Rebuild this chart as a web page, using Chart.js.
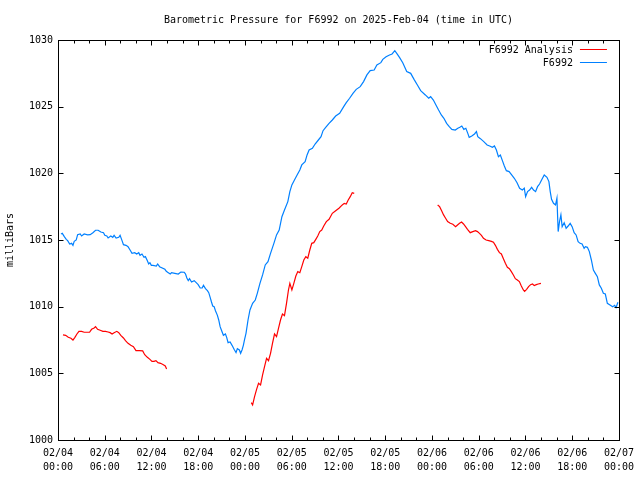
<!DOCTYPE html>
<html lang="en">
<head>
<meta charset="UTF-8">
<title>Barometric Pressure for F6992</title>
<script src="https://cdn.jsdelivr.net/npm/chart.js"></script>
<style>
  html, body { margin: 0; padding: 0; background: #fff; }
  canvas { display: block; }
</style>
</head>
<body>
<canvas id="chart" width="640" height="480"></canvas>
<script>
  // time axis = hours since 2025-02-04 00:00 UTC
  const titleText = 'Barometric Pressure for F6992 on 2025-Feb-04 (time in UTC)';
  const yAxisLabel = 'milliBars';
  const month = '02';
  const firstDay = 4;
  const xMin = 0, xMax = 72, xMajorStep = 6, xMinorStep = 2;
  const yMin = 1000, yMax = 1030, yStep = 5;

  // F6992 (station readings)
  const blueHours = [
    0.38,0.55,0.81,1.06,1.24,1.50,1.75,1.92,2.08,2.34,
    2.52,2.85,3.03,3.36,3.80,4.13,4.48,4.82,5.15,5.50,
    5.84,6.01,6.27,6.43,6.78,7.03,7.20,7.46,7.80,7.97,
    8.22,8.40,8.73,8.99,9.25,9.50,9.85,10.10,10.36,10.53,
    10.78,11.04,11.22,11.47,11.64,11.80,11.98,12.19,12.62,12.79,
    13.04,13.72,13.90,14.16,14.41,14.58,15.00,15.44,15.77,16.20,
    16.37,16.54,16.72,16.88,17.14,17.48,17.74,17.99,18.25,18.51,
    18.67,18.93,19.18,19.35,19.53,19.70,19.86,20.04,20.21,20.46,
    20.63,20.81,20.97,21.23,21.49,21.65,21.83,22.09,22.34,22.60,
    22.85,23.02,23.28,23.44,23.62,23.79,23.95,24.13,24.39,24.64,
    24.98,25.32,25.58,25.92,26.26,26.60,26.95,27.28,27.71,28.05,
    28.39,28.74,29.07,29.50,29.76,30.02,30.35,30.69,31.04,31.29,
    31.72,31.97,32.23,32.65,33.00,33.42,33.76,34.02,34.36,34.79,
    35.21,35.64,36.15,36.67,37.00,37.43,37.86,38.28,38.79,39.22,
    39.65,40.07,40.58,40.93,41.44,41.69,42.11,42.55,42.88,43.23,
    43.48,43.83,44.25,44.76,45.27,45.70,46.13,46.55,47.15,47.58,
    47.83,48.18,48.51,48.85,49.20,49.53,49.88,50.22,50.55,50.99,
    51.32,51.58,51.83,52.09,52.35,52.60,52.78,53.11,53.46,53.71,
    53.88,54.22,54.65,55.08,55.41,55.76,56.02,56.27,56.53,56.78,
    57.04,57.29,57.55,57.90,58.23,58.57,58.92,59.25,59.60,59.85,
    60.02,60.27,60.53,60.79,61.04,61.30,61.55,61.81,62.07,62.41,
    62.76,63.01,63.18,63.35,63.60,63.86,64.04,64.20,64.37,64.55,
    64.71,64.97,65.22,65.48,65.74,65.99,66.25,66.50,66.76,67.01,
    67.27,67.53,67.69,67.95,68.20,68.46,68.72,68.97,69.23,69.48,
    69.74,70.00,70.25,70.51,70.85,71.20,71.45,71.62,71.87
  ];
  const blueMbar = [
    1015.45,1015.50,1015.25,1015.05,1014.95,1014.70,1014.75,1014.60,1014.90,1015.00,
    1015.40,1015.45,1015.30,1015.45,1015.38,1015.40,1015.55,1015.73,1015.73,1015.60,
    1015.55,1015.35,1015.30,1015.15,1015.30,1015.20,1015.35,1015.15,1015.20,1015.35,
    1014.95,1014.65,1014.60,1014.50,1014.25,1014.00,1014.05,1013.95,1014.05,1013.85,
    1013.95,1013.70,1013.75,1013.45,1013.20,1013.30,1013.10,1013.10,1013.05,1013.20,
    1013.00,1012.80,1012.65,1012.55,1012.45,1012.55,1012.50,1012.45,1012.60,1012.58,
    1012.45,1012.15,1011.95,1012.10,1011.85,1011.95,1011.80,1011.65,1011.40,1011.40,
    1011.60,1011.35,1011.20,1011.05,1010.70,1010.35,1010.05,1010.00,1009.70,1009.35,
    1009.00,1008.50,1008.25,1007.85,1007.95,1007.70,1007.30,1007.35,1007.10,1006.80,
    1006.55,1006.85,1006.75,1006.50,1006.75,1007.10,1007.55,1008.00,1009.00,1009.75,
    1010.25,1010.50,1011.00,1011.75,1012.38,1013.13,1013.38,1014.00,1014.75,1015.38,
    1015.75,1016.75,1017.25,1017.88,1018.63,1019.13,1019.50,1019.88,1020.25,1020.63,
    1020.88,1021.38,1021.75,1021.88,1022.20,1022.50,1022.75,1023.20,1023.45,1023.75,
    1024.00,1024.30,1024.50,1025.00,1025.30,1025.63,1026.00,1026.30,1026.50,1026.88,
    1027.38,1027.70,1027.75,1028.13,1028.30,1028.55,1028.75,1028.88,1028.95,1029.20,
    1029.00,1028.70,1028.30,1027.63,1027.50,1027.05,1026.63,1026.20,1025.88,1025.63,
    1025.75,1025.50,1025.13,1024.75,1024.38,1024.13,1023.75,1023.50,1023.30,1023.25,
    1023.38,1023.45,1023.55,1023.30,1023.38,1023.00,1022.70,1022.80,1022.95,1023.13,
    1022.75,1022.60,1022.38,1022.13,1022.05,1021.95,1022.05,1021.75,1021.25,1021.38,
    1020.95,1020.55,1020.20,1020.13,1019.88,1019.63,1019.30,1018.88,1018.75,1018.88,
    1018.25,1018.63,1018.75,1018.95,1018.75,1018.63,1019.00,1019.20,1019.50,1019.88,
    1019.70,1019.38,1018.63,1018.05,1017.75,1017.63,1018.13,1015.63,1016.38,1016.88,
    1016.00,1016.30,1015.88,1016.05,1016.25,1016.00,1015.55,1015.38,1014.88,1014.75,
    1014.70,1014.38,1014.50,1014.45,1014.13,1013.50,1012.75,1012.50,1012.25,1011.63,
    1011.38,1011.00,1010.95,1010.25,1010.13,1010.00,1010.10,1009.93,1010.33
  ];

  // F6992 Analysis, three separate runs
  const redHoursA = [
    0.64,0.98,1.32,1.66,1.92,2.17,2.43,2.69,3.03,3.36,
    3.71,4.05,4.31,4.64,4.82,5.08,5.41,5.76,6.10,6.43,
    6.69,6.94,7.20,7.55,7.80,8.06,8.40,8.66,8.99,9.34,
    9.68,10.01,10.45,10.87,11.13,11.47,11.80,12.06,12.32,12.57,
    12.83,13.17,13.52,13.77,13.94
  ];
  const redMbarA = [
    1007.88,1007.85,1007.70,1007.63,1007.50,1007.70,1007.95,1008.15,1008.15,1008.08,
    1008.08,1008.08,1008.30,1008.40,1008.50,1008.30,1008.23,1008.15,1008.15,1008.10,
    1008.05,1007.95,1008.05,1008.15,1008.05,1007.85,1007.65,1007.45,1007.25,1007.10,
    1007.00,1006.70,1006.70,1006.68,1006.40,1006.20,1006.05,1005.90,1005.90,1005.95,
    1005.80,1005.75,1005.65,1005.55,1005.33
  ];
  const redHoursB = [
    24.81,24.98,25.23,25.49,25.74,26.00,26.26,26.51,26.77,27.02,
    27.28,27.53,27.79,28.05,28.30,28.56,28.81,29.07,29.33,29.58,
    29.76,30.02,30.27,30.53,30.78,31.04,31.29,31.55,31.81,32.06,
    32.32,32.57,32.83,33.09,33.34,33.60,33.85,34.11,34.44,34.79,
    35.21,35.64,36.06,36.49,36.74,37.00,37.25,37.51,37.77,38.02
  ];
  const redMbarB = [
    1002.80,1002.63,1003.25,1003.80,1004.25,1004.13,1004.88,1005.50,1006.13,1005.95,
    1006.50,1007.25,1007.95,1007.75,1008.38,1009.00,1009.45,1009.33,1010.25,1011.25,
    1011.75,1011.25,1011.75,1012.30,1012.63,1012.55,1013.00,1013.50,1013.75,1013.63,
    1014.25,1014.75,1014.80,1015.05,1015.30,1015.63,1015.75,1016.05,1016.38,1016.55,
    1017.00,1017.20,1017.38,1017.63,1017.75,1017.70,1018.00,1018.25,1018.55,1018.50
  ];
  const redHoursC = [
    48.73,48.98,49.24,49.49,49.75,50.01,50.35,50.68,51.03,51.28,
    51.54,51.80,52.05,52.31,52.56,52.91,53.24,53.59,53.84,54.10,
    54.35,54.61,54.95,55.29,55.63,55.89,56.14,56.40,56.66,56.91,
    57.17,57.42,57.68,57.94,58.19,58.45,58.70,58.96,59.22,59.47,
    59.73,59.89,60.15,60.40,60.66,60.91,61.13,61.39,61.64,61.99
  ];
  const redMbarC = [
    1017.63,1017.50,1017.20,1016.88,1016.63,1016.38,1016.25,1016.18,1016.00,1016.13,
    1016.25,1016.35,1016.20,1016.00,1015.80,1015.55,1015.63,1015.70,1015.63,1015.50,
    1015.35,1015.13,1015.00,1014.95,1014.90,1014.83,1014.60,1014.30,1014.05,1013.95,
    1013.60,1013.25,1012.95,1012.85,1012.63,1012.38,1012.10,1012.00,1011.88,1011.55,
    1011.25,1011.15,1011.30,1011.50,1011.65,1011.70,1011.58,1011.65,1011.70,1011.75
  ];

  const FONT = '"DejaVu Sans Mono", "Liberation Mono", monospace';

  function toPoints(hours, vals) {
    return hours.map((h, i) => ({ x: h, y: vals[i] }));
  }
  // null point between runs so the line breaks
  const redPoints = [].concat(
    toPoints(redHoursA, redMbarA), [{ x: 14, y: null }],
    toPoints(redHoursB, redMbarB), [{ x: 38.1, y: null }],
    toPoints(redHoursC, redMbarC)
  );

  function timeLabel(h) {
    const day = firstDay + Math.floor(h / 24);
    const hr = h % 24;
    return [month + '/' + String(day).padStart(2, '0'), String(hr).padStart(2, '0') + ':00'];
  }

  // gnuplot-like frame: border, inward ticks, title, y label, legend
  const framePlugin = {
    id: 'frame',
    afterDraw(chart) {
      const ctx = chart.ctx;
      const a = chart.chartArea;
      const xs = chart.scales.x, ys = chart.scales.y;
      const L = Math.round(a.left) + 0.5, R = Math.round(a.right) + 0.5;
      const T = Math.round(a.top) + 0.5, B = Math.round(a.bottom) + 0.5;
      ctx.save();
      ctx.strokeStyle = '#000';
      ctx.lineWidth = 1;
      ctx.strokeRect(L, T, R - L, B - T);

      ctx.beginPath();
      for (let v = xMin; v <= xMax; v += xMinorStep) {
        const px = Math.round(xs.getPixelForValue(v)) + 0.5;
        const len = v % xMajorStep === 0 ? 5 : 3;
        ctx.moveTo(px, B); ctx.lineTo(px, B - len);
        ctx.moveTo(px, T); ctx.lineTo(px, T + len);
      }
      for (let v = yMin; v <= yMax; v += yStep) {
        const py = Math.round(ys.getPixelForValue(v)) + 0.5;
        ctx.moveTo(L, py); ctx.lineTo(L + 5, py);
        ctx.moveTo(R, py); ctx.lineTo(R - 5, py);
      }
      ctx.stroke();

      ctx.fillStyle = '#000';
      ctx.font = '10px ' + FONT;
      ctx.textAlign = 'center';
      ctx.textBaseline = 'middle';
      ctx.fillText(titleText, (a.left + a.right) / 2, 20);

      ctx.save();
      ctx.translate(10, (a.top + a.bottom) / 2);
      ctx.rotate(-Math.PI / 2);
      ctx.fillText(yAxisLabel, 0, 0);
      ctx.restore();

      // legend, top right inside the plot
      ctx.textAlign = 'right';
      chart.data.datasets.forEach((ds, i) => {
        const y = a.top + 10 + i * 13;
        ctx.fillStyle = '#000';
        ctx.fillText(ds.label, a.right - 46, y);
        ctx.strokeStyle = ds.borderColor;
        ctx.beginPath();
        ctx.moveTo(a.right - 39, Math.round(y) - 0.5);
        ctx.lineTo(a.right - 12, Math.round(y) - 0.5);
        ctx.stroke();
      });
      ctx.restore();
    }
  };

  new Chart(document.getElementById('chart'), {
    type: 'line',
    data: {
      datasets: [
        { label: 'F6992 Analysis', data: redPoints, borderColor: '#ff0000', spanGaps: false },
        { label: 'F6992', data: toPoints(blueHours, blueMbar), borderColor: '#0080ff' }
      ]
    },
    options: {
      responsive: false,
      animation: false,
      devicePixelRatio: 1,
      layout: { padding: { top: 40, right: 19, left: 0, bottom: 0 } },
      elements: {
        point: { radius: 0 },
        line: { borderWidth: 1.2, tension: 0, fill: false }
      },
      plugins: {
        legend: { display: false },
        title: { display: false },
        tooltip: { enabled: false }
      },
      scales: {
        x: {
          type: 'linear', min: xMin, max: xMax,
          grid: { display: false, drawTicks: false, tickLength: 0 }, border: { display: false },
          ticks: {
            stepSize: xMajorStep, autoSkip: false, maxRotation: 0, padding: 6,
            color: '#000', font: { family: FONT, size: 10, lineHeight: 1.4 },
            callback: v => timeLabel(v)
          },
          afterFit: s => { s.height = 40; }
        },
        y: {
          min: yMin, max: yMax,
          grid: { display: false, drawTicks: false, tickLength: 0 }, border: { display: false },
          ticks: {
            stepSize: yStep, padding: 5,
            color: '#000', font: { family: FONT, size: 10 },
            callback: v => String(v)
          },
          afterFit: s => { s.width = 58; }
        }
      }
    },
    plugins: [framePlugin]
  });
</script>
</body>
</html>
